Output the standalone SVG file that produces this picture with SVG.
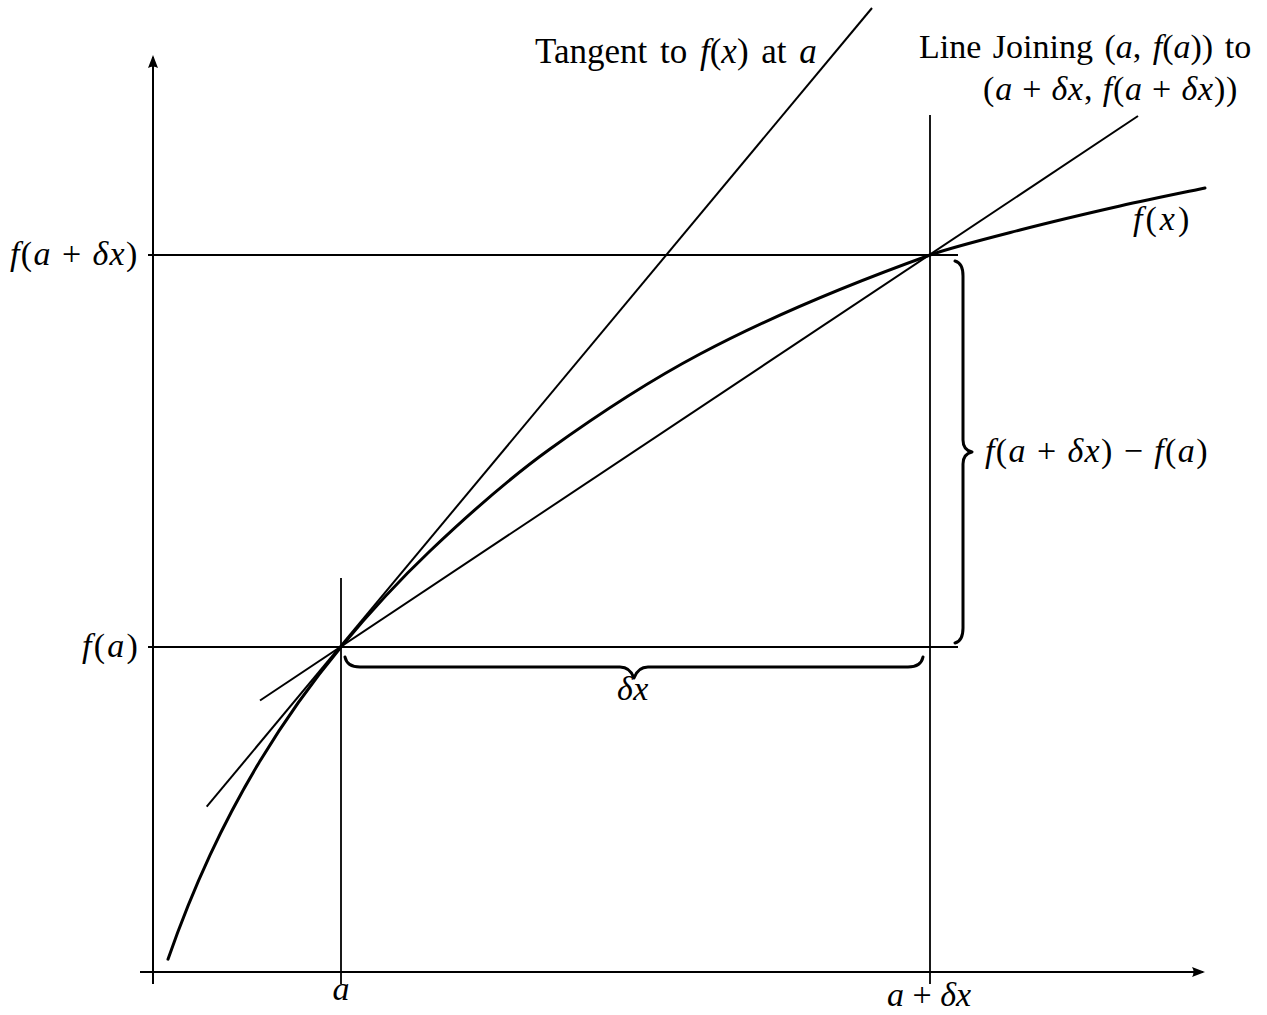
<svg xmlns="http://www.w3.org/2000/svg" width="1267" height="1015" viewBox="0 0 1267 1015">
<style>
.ln{stroke:#000;stroke-width:2;fill:none;stroke-linecap:butt}
.thin{stroke:#000;stroke-width:1.8;fill:none}
.crv{stroke:#000;stroke-width:3;fill:none;stroke-linejoin:round;stroke-linecap:round}
.br{stroke:#000;stroke-width:3;fill:none;stroke-linejoin:round;stroke-linecap:round}
.i{font-style:italic}
</style>
<defs>
<marker id="arr" viewBox="0 0 13 10" refX="11" refY="5" markerWidth="13" markerHeight="10" markerUnits="userSpaceOnUse" orient="auto">
<path d="M0,0 L13,5 L0,10 Q3,5 0,0 z" fill="#000"/>
</marker>
</defs>
<rect width="1267" height="1015" fill="#fff"/>
<g id="axes">
<line class="ln" x1="153" y1="984" x2="153" y2="57" marker-end="url(#arr)"/>
<line class="ln" x1="140" y1="972" x2="1203" y2="972" marker-end="url(#arr)"/>
</g>
<g id="guides">
<line class="thin" x1="148" y1="255" x2="958" y2="255"/>
<line class="thin" x1="148" y1="647" x2="958" y2="647"/>
<line class="thin" x1="341" y1="578" x2="341" y2="984"/>
<line class="thin" x1="930" y1="115" x2="930" y2="984"/>
</g>
<g id="connectors">
<line id="tangent" class="ln" x1="206.7" y1="806.7" x2="872" y2="8"/>
<line id="secant" class="ln" x1="260" y1="700.5" x2="1138" y2="116"/>
</g>
<g id="curve">
<path class="crv" d="M168,959.2 C182,918.95 196,885.23 210,855.1 C226.67,819.23 243.33,788.6 260,761 C287,716.29 314,679.56 341,647 C370.67,611.22 400.33,579.18 430,551 C470,513 510,477.8 550,449 C600,413 650,380.5 700,354 C776.67,313.37 853.33,282.6 930,255 C950,247.8 988.33,238.17 1020,230 C1051.67,221.83 1089.17,213 1120,206 C1150.83,199 1190.83,191 1205,188"/>
</g>
<g id="braces">
<path class="br" d="M955,261 Q963,263 963,276 L963,440 Q963,450 972,452 Q963,454 963,464 L963,628 Q963,641 955,643"/>
<path class="br" d="M345,657 Q347,667 360,667 L620,667 Q630,667 634,678 Q638,667 648,667 L908,667 Q921,667 923,657"/>
</g>
<g id="labels" font-family="Liberation Serif, Times New Roman, serif" font-size="34" fill="#000">
<text x="535" y="63" font-size="35" word-spacing="4">Tangent to <tspan class="i">f</tspan>(<tspan class="i">x</tspan>) at <tspan class="i">a</tspan></text>
<text x="919" y="58" word-spacing="3">Line Joining (<tspan class="i">a</tspan>, <tspan class="i">f</tspan>(<tspan class="i">a</tspan>)) to</text>
<text x="983" y="100" letter-spacing="0.8">(<tspan class="i">a</tspan> + <tspan class="i">δx</tspan>, <tspan class="i">f</tspan>(<tspan class="i">a</tspan> + <tspan class="i">δx</tspan>))</text>
<text x="1133" y="230" letter-spacing="3"><tspan class="i">f</tspan>(<tspan class="i">x</tspan>)</text>
<text x="10" y="265" letter-spacing="1.4"><tspan class="i">f</tspan>(<tspan class="i">a</tspan> + <tspan class="i">δx</tspan>)</text>
<text x="82" y="657" letter-spacing="2.2"><tspan class="i">f</tspan>(<tspan class="i">a</tspan>)</text>
<text x="985" y="462" letter-spacing="1.4"><tspan class="i">f</tspan>(<tspan class="i">a</tspan> + <tspan class="i">δx</tspan>) − <tspan class="i">f</tspan>(<tspan class="i">a</tspan>)</text>
<text class="i" x="617" y="700" letter-spacing="0.5">δx</text>
<text class="i" x="341" y="1000" text-anchor="middle">a</text>
<text x="887" y="1006"><tspan class="i">a</tspan> + <tspan class="i">δx</tspan></text>
</g>
</svg>
